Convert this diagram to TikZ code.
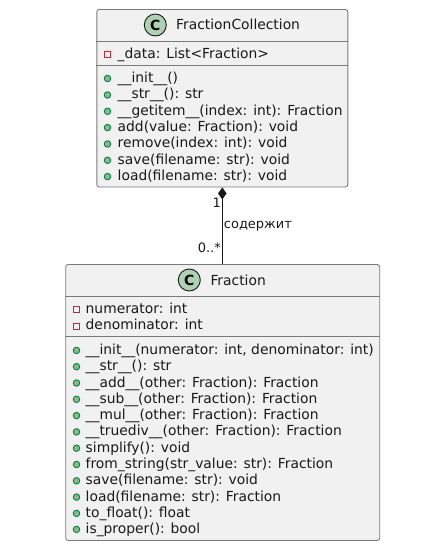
\documentclass[tikz,border=0pt]{standalone}
\usepackage{fontspec}
\setmainfont{DejaVu Sans}
\usetikzlibrary{arrows.meta}
\definecolor{boxfill}{HTML}{F1F1F1}
\definecolor{boxline}{HTML}{7A7A7A}
\definecolor{privred}{HTML}{C82930}
\definecolor{pubgreen}{HTML}{84BE84}
\definecolor{publine}{HTML}{038048}
\definecolor{spotfill}{HTML}{ADD1B2}
\tikzset{
  classbox/.style={draw=boxline,fill=boxfill,line width=0.9pt,rounded corners=2.5pt,inner sep=0pt,minimum width=#1},
  sepline/.style={draw=boxline,line width=0.9pt},
  titletext/.style={anchor=base west,inner sep=0pt,font=\fontsize{13.85}{16}\selectfont,text=black!90},
  membertext/.style={anchor=base west,inner sep=0pt,font=\fontsize{13.85}{16}\selectfont,text=black!90},
  linklabel/.style={inner sep=0pt,font=\fontsize{13}{15}\selectfont,text=black!90},
  spot/.style={circle,draw=black!90,fill=spotfill,line width=0.9pt,minimum size=22pt,inner sep=0pt,font=\fontsize{14}{16}\selectfont\bfseries},
  privmark/.style={draw=privred,line width=0.9pt,minimum size=6pt,inner sep=0pt},
  pubmark/.style={circle,draw=publine,fill=pubgreen,line width=0.9pt,minimum size=6.5pt,inner sep=0pt},
  composition/.style={{Diamond[width=8.5pt,length=12pt,fill=black!90]}-,draw=black!90,line width=0.9pt},
}
\newcommand{\privrow}[5]{%
  \node[privmark] (#1m) at (#2,#4-3.7) {};
  \node[membertext] (#1) at (#3,#4) {#5};}
\newcommand{\pubrow}[5]{%
  \node[pubmark] (#1m) at (#2,#4-4) {};
  \node[membertext] (#1) at (#3,#4) {#5};}
\begin{document}
\begin{tikzpicture}[x=1pt,y=-1pt]
\useasboundingbox (0,0) rectangle (439,548);
% FractionCollection
\node[classbox=251pt,minimum height=177.5pt] (fc) at (222.3,98.25) {};
\draw[sepline] (fc.west |- 0,41.5) -- (fc.east |- 0,41.5);
\draw[sepline] (fc.west |- 0,65.5) -- (fc.east |- 0,65.5);
\node[spot] (fcs) at (155.3,25) {C};
\node[titletext] (fct) at (176,30) {FractionCollection};
\privrow{a0}{107.7}{117.5}{58.5}{\_data: List<Fraction>}
\pubrow{a1}{107.5}{117.5}{82.5}{\_\_init\_\_()}
\pubrow{a2}{107.5}{117.5}{99}{\_\_str\_\_(): str}
\pubrow{a3}{107.5}{117.5}{115.3}{\_\_getitem\_\_(index: int): Fraction}
\pubrow{a4}{107.5}{117.5}{131.6}{add(value: Fraction): void}
\pubrow{a5}{107.5}{117.5}{148}{remove(index: int): void}
\pubrow{a6}{107.5}{117.5}{164.3}{save(filename: str): void}
\pubrow{a7}{107.5}{117.5}{180.6}{load(filename: str): void}
% Fraction
\node[classbox=314pt,minimum height=276pt] (fr) at (222.7,402.5) {};
\draw[sepline] (fr.west |- 0,296.5) -- (fr.east |- 0,296.5);
\draw[sepline] (fr.west |- 0,336.5) -- (fr.east |- 0,336.5);
\node[spot] (frs) at (189.3,280) {C};
\node[titletext] (frt) at (210.3,285) {Fraction};
\privrow{b0}{76.5}{85.5}{313.5}{numerator: int}
\privrow{b1}{76.5}{85.5}{329.8}{denominator: int}
\pubrow{c0}{76.5}{85.5}{354.4}{\_\_init\_\_(numerator: int, denominator: int)}
\pubrow{c1}{76.5}{85.5}{370.7}{\_\_str\_\_(): str}
\pubrow{c2}{76.5}{85.5}{387}{\_\_add\_\_(other: Fraction): Fraction}
\pubrow{c3}{76.5}{85.5}{403.3}{\_\_sub\_\_(other: Fraction): Fraction}
\pubrow{c4}{76.5}{85.5}{419.6}{\_\_mul\_\_(other: Fraction): Fraction}
\pubrow{c5}{76.5}{85.5}{435.9}{\_\_truediv\_\_(other: Fraction): Fraction}
\pubrow{c6}{76.5}{85.5}{452.2}{simplify(): void}
\pubrow{c7}{76.5}{85.5}{468.5}{from\_string(str\_value: str): Fraction}
\pubrow{c8}{76.5}{85.5}{484.8}{save(filename: str): void}
\pubrow{c9}{76.5}{85.5}{501.1}{load(filename: str): Fraction}
\pubrow{c10}{76.5}{85.5}{517.4}{to\_float(): float}
\pubrow{c11}{76.5}{85.5}{533.4}{is\_proper(): bool}
% Connector
\draw[composition] (fc.south) -- (fc.south |- fr.north);
\node[linklabel,anchor=east] (one) at (221,203) {1};
\node[linklabel,anchor=east] (many) at (221,248) {0..*};
\node[linklabel,anchor=west] (rel) at (223.7,226) {содержит};
\end{tikzpicture}
\end{document}
